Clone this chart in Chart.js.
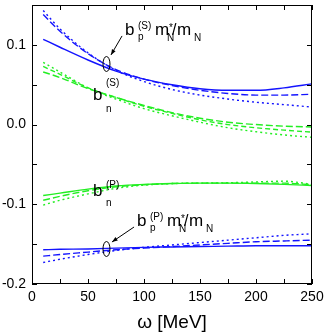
<!DOCTYPE html>
<html>
<head>
<meta charset="utf-8">
<title>b coefficients vs omega</title>
<script src="https://cdn.jsdelivr.net/npm/chart.js"></script>
<style>
  html, body { margin: 0; padding: 0; background: #fff; }
  #wrap { width: 327px; height: 334px; }
</style>
</head>
<body>
<div id="wrap"><canvas id="chart" width="327" height="334"></canvas></div>
<script>
// photon energy omega [MeV]
const omega = [10, 25, 50, 75, 100, 125, 150, 175, 200, 225, 250];

// b_p^(S) m*_N/m_N (blue, upper group)
const bpS_solid  = [0.107, 0.097, 0.081, 0.067, 0.057, 0.050, 0.045, 0.043, 0.043, 0.046, 0.051];
const bpS_dashed = [0.138, 0.117, 0.089, 0.069, 0.057, 0.049, 0.043, 0.039, 0.037, 0.037, 0.038];
const bpS_dotted = [0.143, 0.120, 0.090, 0.068, 0.054, 0.044, 0.037, 0.032, 0.028, 0.025, 0.022];

// b_n^(S) (green, upper group)
const bnS_a = [0.066, 0.059, 0.045, 0.034, 0.024, 0.015, 0.008, 0.003, 0.000, -0.002, -0.003];
const bnS_b = [0.073, 0.063, 0.046, 0.034, 0.023, 0.014, 0.006, 0.000, -0.004, -0.007, -0.0095];
const bnS_c = [0.078, 0.066, 0.046, 0.032, 0.020, 0.011, 0.003, -0.004, -0.009, -0.013, -0.016];

// b_n^(P) (green, lower group)
const bnP_solid  = [-0.089, -0.086, -0.081, -0.077, -0.075, -0.074, -0.0735, -0.0735, -0.074, -0.075, -0.0765];
const bnP_dashed = [-0.095, -0.090, -0.083, -0.078, -0.0755, -0.074, -0.0735, -0.0735, -0.0735, -0.0735, -0.0755];
const bnP_dotted = [-0.101, -0.095, -0.087, -0.080, -0.076, -0.074, -0.0735, -0.073, -0.072, -0.071, -0.075];

// b_p^(P) m*_N/m_N (blue, lower group)
const bpP_solid  = [-0.157, -0.1565, -0.156, -0.155, -0.154, -0.1535, -0.153, -0.1525, -0.152, -0.152, -0.152];
const bpP_dashed = [-0.165, -0.163, -0.160, -0.157, -0.155, -0.153, -0.151, -0.149, -0.147, -0.146, -0.145];
const bpP_dotted = [-0.173, -0.169, -0.163, -0.158, -0.154, -0.151, -0.148, -0.145, -0.142, -0.139, -0.137];

const xTicks = [0, 25, 50, 75, 100, 125, 150, 175, 200, 225, 250];
const yTicks = [-0.2, -0.15, -0.1, -0.05, 0.0, 0.05, 0.1, 0.15];

const BLUE = "#1414ff";
const GREEN = "#22ee22";
const FONT = "'Liberation Sans', Arial, sans-serif";

// turn a value array into {x, y} points
const pts = (vals) => vals.map((v, i) => ({ x: omega[i], y: v }));

const line = (vals, color, dash) => ({
  data: pts(vals),
  borderColor: color,
  borderWidth: 1.4,
  borderDash: dash,
  pointRadius: 0,
  fill: false,
  cubicInterpolationMode: "monotone",
});

const DASH = [7, 3];
const DASH2 = [5, 3];
const DOT = [2, 3];

// label pieces: [text, dx, dy, fontSize] relative to the "b" baseline
const ratioTail = [["m", 30, 0, 17], ["*", 44, -4, 10], ["N", 42, 6, 10], ["/", 47, 0, 16], ["m", 52, 0, 17], ["N", 69, 6, 10]];
const labels = [
  { at: [83.0, 0.1124], parts: [["b", 0, 0, 17], ["(S)", 13, -6, 10], ["p", 13, 5, 10]].concat(ratioTail) },
  { at: [93.75, -0.1272], parts: [["b", 0, 0, 17], ["(P)", 13, -6, 10], ["p", 13, 5, 10]].concat(ratioTail) },
  { at: [54.5, 0.0309], parts: [["b", 0, 0, 17], ["(S)", 13, -14, 10], ["n", 13, 12, 10]] },
  { at: [54.5, -0.0896], parts: [["b", 0, 0, 17], ["(P)", 13, -8, 10], ["n", 13, 10, 10]] },
];
const ellipses = [[66.5, 0.076], [66.5, -0.1561]];
const arrows = [
  [[80.4, 0.1112], [70.5, 0.0873]],
  [[91.1, -0.1285], [71.4, -0.1473]],
];

const framePlugin = {
  id: "frame",
  afterDraw(chart) {
    const { ctx, chartArea: a, scales } = chart;
    const xs = scales.x, ys = scales.y;
    ctx.save();
    ctx.strokeStyle = "#000";
    ctx.lineWidth = 1;
    ctx.strokeRect(a.left + 0.5, a.top + 0.5, a.right - a.left - 1, a.bottom - a.top - 1);

    // inward ticks on all four sides
    ctx.beginPath();
    xTicks.forEach((t) => {
      const px = Math.round(xs.getPixelForValue(t)) + 0.5;
      ctx.moveTo(px, a.bottom); ctx.lineTo(px, a.bottom - 5);
      ctx.moveTo(px, a.top); ctx.lineTo(px, a.top + 5);
    });
    yTicks.forEach((t) => {
      const py = Math.round(ys.getPixelForValue(t)) + 0.5;
      ctx.moveTo(a.left, py); ctx.lineTo(a.left + 5, py);
      ctx.moveTo(a.right, py); ctx.lineTo(a.right - 5, py);
    });
    ctx.stroke();

    // annotations
    ctx.fillStyle = "#000";
    ctx.textBaseline = "alphabetic";
    ctx.textAlign = "left";
    labels.forEach((l) => {
      const x0 = xs.getPixelForValue(l.at[0]);
      const y0 = ys.getPixelForValue(l.at[1]);
      l.parts.forEach(([txt, dx, dy, size]) => {
        ctx.font = size + "px " + FONT;
        ctx.fillText(txt, x0 + dx, y0 + dy);
      });
    });

    ctx.lineWidth = 1;
    ellipses.forEach(([ex, ey]) => {
      ctx.beginPath();
      ctx.ellipse(xs.getPixelForValue(ex), ys.getPixelForValue(ey), 3.5, 7.5, 0, 0, Math.PI * 2);
      ctx.stroke();
    });

    arrows.forEach(([from, to]) => {
      const x1 = xs.getPixelForValue(from[0]), y1 = ys.getPixelForValue(from[1]);
      const x2 = xs.getPixelForValue(to[0]), y2 = ys.getPixelForValue(to[1]);
      const ang = Math.atan2(y2 - y1, x2 - x1);
      ctx.beginPath();
      ctx.moveTo(x1, y1); ctx.lineTo(x2, y2);
      ctx.stroke();
      ctx.beginPath();
      ctx.moveTo(x2, y2);
      ctx.lineTo(x2 - 6 * Math.cos(ang - 0.35), y2 - 6 * Math.sin(ang - 0.35));
      ctx.lineTo(x2 - 6 * Math.cos(ang + 0.35), y2 - 6 * Math.sin(ang + 0.35));
      ctx.closePath();
      ctx.fill();
    });

    // x axis title
    ctx.font = "19px " + FONT;
    ctx.textAlign = "center";
    ctx.fillText("\u03C9 [MeV]", (a.left + a.right) / 2, 328);
    ctx.restore();
  },
};

new Chart(document.getElementById("chart"), {
  type: "line",
  data: {
    datasets: [
      line(bpS_solid, BLUE, []),
      line(bpS_dashed, BLUE, DASH),
      line(bpS_dotted, BLUE, DOT),
      line(bnS_a, GREEN, DASH),
      line(bnS_b, GREEN, DASH2),
      line(bnS_c, GREEN, DOT),
      line(bnP_solid, GREEN, []),
      line(bnP_dashed, GREEN, DASH),
      line(bnP_dotted, GREEN, DOT),
      line(bpP_solid, BLUE, []),
      line(bpP_dashed, BLUE, DASH),
      line(bpP_dotted, BLUE, DOT),
    ],
  },
  options: {
    responsive: false,
    animation: false,
    events: [],
    layout: { padding: { top: 5, right: 15, left: 0, bottom: 0 } },
    plugins: { legend: { display: false }, tooltip: { enabled: false } },
    scales: {
      x: {
        type: "linear",
        min: 0,
        max: 250,
        grid: { display: false, drawTicks: false },
        border: { display: false },
        ticks: { stepSize: 50, padding: 5, color: "#000", font: { family: FONT, size: 14 } },
        afterFit: (s) => { s.height = 50; s.paddingLeft = 0; s.paddingRight = 0; },
      },
      y: {
        type: "linear",
        min: -0.2,
        max: 0.15,
        grid: { display: false, drawTicks: false },
        border: { display: false },
        ticks: {
          stepSize: 0.1,
          padding: 6,
          color: "#000",
          font: { family: FONT, size: 14 },
          callback: (v) => {
            const r = Math.round(v * 10);
            if (Math.abs(v * 10 - r) > 1e-6) return "";
            return (r / 10).toFixed(1);
          },
        },
        afterFit: (s) => { s.width = 32; s.paddingTop = 0; s.paddingBottom = 0; },
      },
    },
  },
  plugins: [framePlugin],
});
</script>
</body>
</html>
